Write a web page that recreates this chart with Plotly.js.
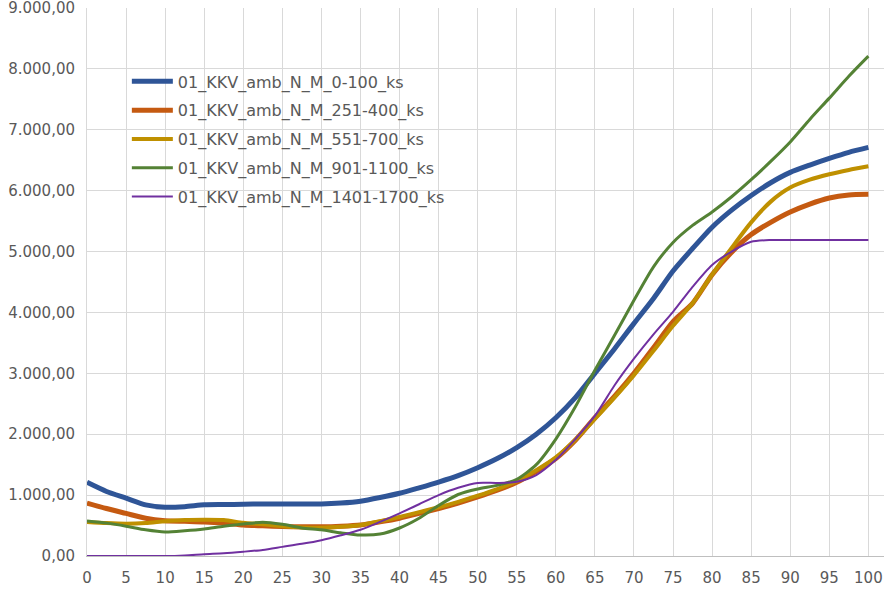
<!DOCTYPE html>
<html>
<head>
<meta charset="utf-8">
<script src="https://cdn.plot.ly/plotly-3.0.1.min.js"></script>
<style>html,body{margin:0;padding:0;background:#fff;}#chart{width:896px;height:600px;}</style>
</head>
<body>
<div id="chart"></div>
<script>
var xs = [0,2.5,5,7.5,10,12.5,15,17.5,20,22.5,25,27.5,30,32.5,35,37.5,40,42.5,45,47.5,50,52.5,55,57.5,60,62.5,65,67.5,70,72.5,75,77.5,80,82.5,85,87.5,90,92.5,95,97.5,100];

var names = ["01_KKV_amb_N_M_0-100_ks","01_KKV_amb_N_M_251-400_ks","01_KKV_amb_N_M_551-700_ks","01_KKV_amb_N_M_901-1100_ks","01_KKV_amb_N_M_1401-1700_ks"];

var s0_100 = [1210,1060,950,840,800,810,840,845,850,855,855,855,855,870,900,960,1030,1120,1215,1320,1450,1600,1780,2000,2270,2600,3000,3400,3820,4230,4680,5050,5400,5680,5920,6130,6300,6420,6530,6630,6710];
var s251_400 = [870,780,700,620,580,570,560,540,510,495,485,480,480,490,510,560,620,700,780,870,970,1080,1210,1390,1600,1900,2270,2620,3000,3420,3850,4150,4620,4990,5280,5480,5650,5780,5880,5930,5940];
var s551_700 = [560,540,530,540,570,590,595,590,545,520,490,470,465,480,510,570,640,720,800,890,990,1100,1230,1410,1620,1910,2250,2600,2970,3370,3780,4150,4620,5060,5480,5820,6050,6180,6270,6340,6400];
var s901_1100 = [575,540,490,430,395,415,445,490,525,555,520,460,430,380,345,360,460,620,830,1010,1100,1160,1260,1500,1920,2450,3050,3620,4200,4750,5150,5430,5650,5900,6180,6480,6800,7170,7520,7880,8210];
var s1401_1700 = [0,0,0,0,0,10,30,45,70,100,150,200,260,340,430,560,700,850,1000,1120,1200,1200,1220,1330,1580,1920,2300,2800,3240,3640,4010,4420,4780,5000,5160,5190,5190,5190,5190,5190,5190];

var xTicks = [0,5,10,15,20,25,30,35,40,45,50,55,60,65,70,75,80,85,90,95,100];

var series = [s0_100, s251_400, s551_700, s901_1100, s1401_1700];
var colors = ["#2F5597","#C55A11","#BF9000","#548235","#7030A0"];
var widths = [5,5,4,3,2];

var traces = series.map(function(s,i){
  return {x: xs, y: s, name: names[i], legendgroup: 'g' + i, type: 'scatter', mode: 'lines',
    cliponaxis: false,
    line: {color: colors[i], width: widths[i], shape: 'spline', smoothing: 0.7}};
});

var fam = 'DejaVu Sans, Verdana, sans-serif';
var layout = {
  width: 896, height: 600,
  margin: {l: 87, r: 12, t: 8, b: 44},
  paper_bgcolor: '#ffffff', plot_bgcolor: '#ffffff',
  separators: ',.',
  font: {family: fam, size: 15, color: '#595959'},
  showlegend: true,
  legend: {x: 0.05, y: 0.897, xanchor: 'left', yanchor: 'top', bgcolor: 'rgba(255,255,255,0)',
    itemwidth: 41, tracegroupgap: 5, traceorder: 'grouped',
    font: {family: fam, size: 16, color: '#595959'}},
  xaxis: {range: [0, 102], tickvals: xTicks, ticktext: xTicks.map(String),
    showgrid: true, gridcolor: '#d9d9d9', gridwidth: 1, zeroline: false,
    showline: true, linecolor: '#bfbfbf', linewidth: 1, ticks: '', ticklabelstandoff: 8,
    tickfont: {family: fam, size: 15, color: '#595959'}, fixedrange: true},
  yaxis: {range: [0, 9000], dtick: 1000, tick0: 0, tickformat: ',.2f',
    showgrid: true, gridcolor: '#d9d9d9', gridwidth: 1, zeroline: false,
    showline: true, linecolor: '#d9d9d9', linewidth: 1, ticks: '', ticklabelstandoff: 8,
    ticklabeloverflow: 'allow',
    tickfont: {family: fam, size: 15, color: '#595959'}, fixedrange: true}
};

Plotly.newPlot('chart', traces, layout, {displayModeBar: false, staticPlot: true});
</script>
</body>
</html>
